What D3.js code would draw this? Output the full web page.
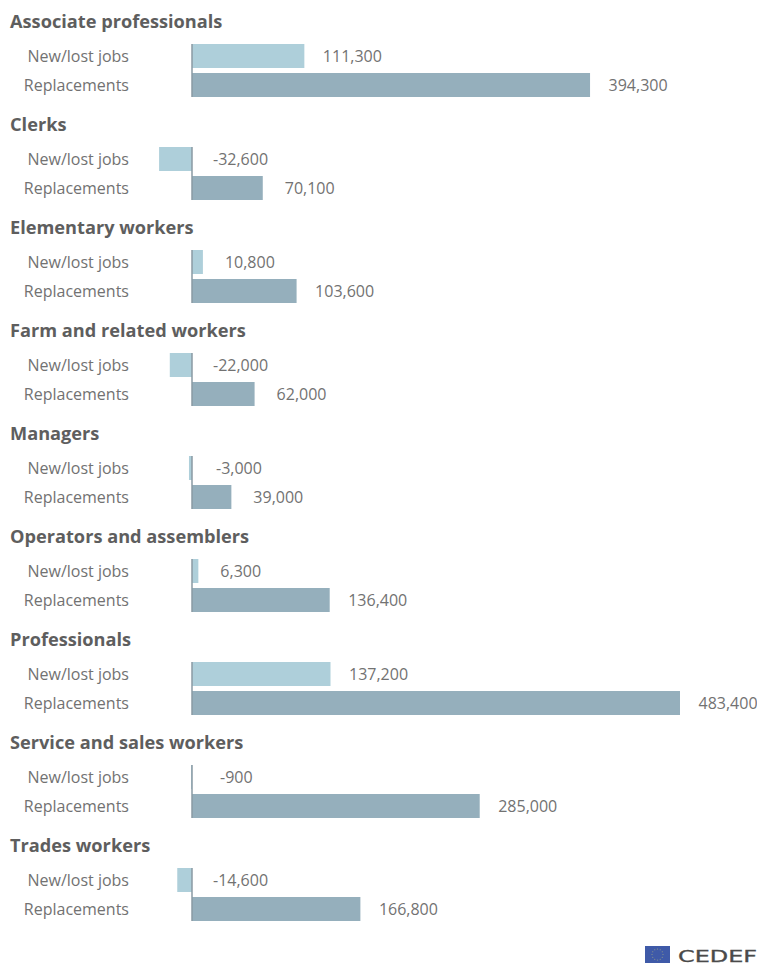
<!DOCTYPE html>
<html>
<head>
<meta charset="utf-8">
<script src="https://cdnjs.cloudflare.com/ajax/libs/d3/7.8.5/d3.min.js"></script>
<style>
html,body{margin:0;padding:0;background:#fff}
svg{display:block}
text{font-family:"Open Sans",sans-serif}
</style>
</head>
<body>
<svg id="chart" width="757" height="965"></svg>
<script>
// Occupation groups with job change and replacement demand
const occupations = ["Associate professionals","Clerks","Elementary workers","Farm and related workers","Managers","Operators and assemblers","Professionals","Service and sales workers","Trades workers"];
const newLostJobs = [111300,-32600,10800,-22000,-3000,6300,137200,-900,-14600];
const replacements = [394300,70100,103600,62000,39000,136400,483400,285000,166800];
const measures = ["New/lost jobs","Replacements"];
const measureColors = ["#aecfda","#95afbc"];

const svg = d3.select("#chart");

const x = d3.scaleLinear().domain([0,483400]).range([192,680]);
const groupY = d3.scalePoint().domain(occupations).range([22,846]);
const rowOffset = d3.scaleBand().domain(measures).range([22,75]).paddingInner(5/29);
const fmt = d3.format(",");
// Plain hyphen for negative values
const label = v => fmt(v).replace("\u2212","-");
// Negative labels start right of the baseline; shorter ones start further in
const negativeLabelX = v => x(0) + (Math.abs(v) < 1000 ? 28 : Math.abs(v) < 10000 ? 24 : 21);
// Positive labels keep a gap past the bar end; shorter numbers get a little more
const positiveLabelX = v => x(v) + (v < 100000 ? 22 : 18.5);

const groups = svg.selectAll("g.group").data(occupations).join("g")
  .attr("class","group")
  .attr("transform",d=>`translate(0,${groupY(d)})`);

groups.append("text")
  .attr("x",10).attr("y",0).attr("dy","0.35em")
  .attr("font-size",18.2).attr("font-weight",700).attr("fill","#5e5e5e")
  .text(d=>d);

groups.each(function(name,i){
  const g = d3.select(this);
  const vals = [newLostJobs[i],replacements[i]];
  measures.forEach((m,j)=>{
    const v = vals[j];
    const y0 = rowOffset(m), h = rowOffset.bandwidth();
    g.append("rect")
      .attr("x",Math.min(x(0),x(v)))
      .attr("y",y0)
      .attr("width",Math.abs(x(v)-x(0)))
      .attr("height",h)
      .attr("fill",measureColors[j]);
    g.append("text")
      .attr("x",129).attr("y",y0+h/2).attr("dy","0.35em")
      .attr("text-anchor","end")
      .attr("font-size",16).attr("fill","#727272")
      .text(m);
    g.append("text")
      .attr("x",v<0 ? negativeLabelX(v) : positiveLabelX(v))
      .attr("y",y0+h/2).attr("dy","0.35em")
      .attr("font-size",16).attr("fill","#727272")
      .text(label(v));
  });
  g.append("line")
    .attr("x1",x(0)).attr("x2",x(0))
    .attr("y1",rowOffset(measures[0])).attr("y2",rowOffset(measures[1])+rowOffset.bandwidth())
    .attr("stroke","#8a9aa3").attr("stroke-width",1.5);
});

// Publisher mark, lower right
const logo = svg.append("g").attr("transform","translate(645,946)");
logo.append("rect").attr("width",25).attr("height",17).attr("fill","#3f5aa8");
const stars = d3.range(12).map(k=>k*Math.PI/6);
logo.selectAll("circle").data(stars).join("circle")
  .attr("cx",a=>12.5+5.5*Math.cos(a)).attr("cy",a=>8.5+5.5*Math.sin(a))
  .attr("r",0.6).attr("fill","#8f9a8a");
logo.append("text")
  .attr("x",33).attr("y",16)
  .attr("font-size",15).attr("fill","#4a4a4a")
  .attr("stroke","#4a4a4a").attr("stroke-width",0.3)
  .attr("textLength",79).attr("lengthAdjust","spacingAndGlyphs")
  .style("font-family","'DejaVu Sans'")
  .text("CEDEF");
</script>
</body>
</html>
